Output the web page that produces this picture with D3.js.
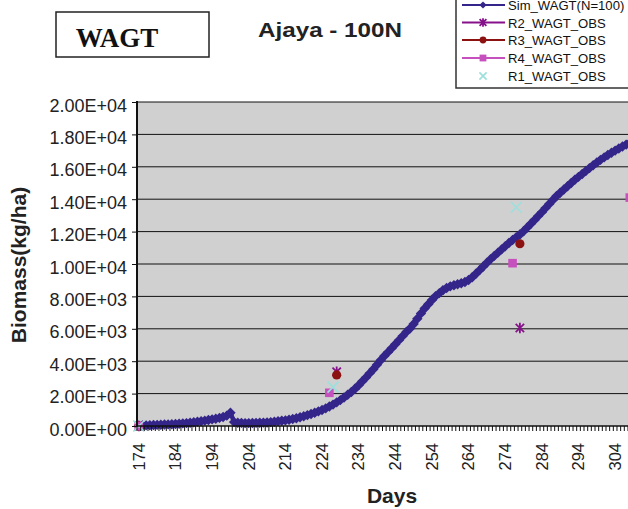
<!DOCTYPE html>
<html><head><meta charset="utf-8">
<script src="https://cdn.jsdelivr.net/npm/d3@7/dist/d3.min.js"></script>
<style>
body{margin:0;background:#fff}
svg{display:block;font-family:"Liberation Sans",Arial,Helvetica,sans-serif;overflow:hidden}
</style>
</head><body>
<svg id="chart" width="628" height="509"></svg>
<script>
// ---------------- data ----------------
const simStartDay = 174;
const simValues = [
  20, 30, 40, 50, 60, 70, 80, 90, 100, 110,          // 174-183
  120, 140, 160, 180, 200, 230, 260, 290, 330, 370,  // 184-193
  410, 450, 500, 560, 640, 820, 240, 200, 190, 180,  // 194-203
  180, 185, 190, 200, 210, 220, 240, 260, 290, 320,  // 204-213
  350, 390, 430, 480, 540, 600, 670, 740, 820, 900,  // 214-223
  990, 1090, 1200, 1320, 1460, 1600, 1760, 1930, 2100, 2300, // 224-233
  2520, 2760, 3000, 3250, 3500, 3780, 4060, 4320, 4560, 4800, // 234-243
  5050, 5300, 5550, 5800, 6020, 6300, 6620, 6950, 7250, 7520, // 244-253
  7780, 8020, 8200, 8380, 8520, 8620, 8690, 8750, 8810, 8890, // 254-263
  9010, 9180, 9400, 9620, 9850, 10080, 10300, 10500, 10700, 10900, // 264-273
  11100, 11300, 11480, 11650, 11820, 12020, 12250, 12480, 12720, 12960, // 274-283
  13200, 13450, 13700, 13950, 14200, 14400, 14600, 14800, 15000, 15200, // 284-293
  15380, 15560, 15740, 15920, 16100, 16270, 16430, 16580, 16730, 16870, // 294-303
  17000, 17130, 17250, 17370, 17480, 17580              // 304-309
];
const r2Days = [174, 228, 278];
const r2Values = [0, 3350, 6050];
const r3Days = [174, 228, 278];
const r3Values = [0, 3150, 11250];
const r4Days = [174, 226, 276, 308];
const r4Values = [0, 2050, 10050, 14100];
const r1Days = [174, 227, 277];
const r1Values = [0, 2400, 13500];
const xTickLabels = [174, 184, 194, 204, 214, 224, 234, 244, 254, 264, 274, 284, 294, 304];
const yTicks = [0, 2000, 4000, 6000, 8000, 10000, 12000, 14000, 16000, 18000, 20000];
const axisFirstDay = 174, axisLastDay = 310;

const legendLabels = ["Sim_WAGT(N=100)", "R2_WAGT_OBS", "R3_WAGT_OBS", "R4_WAGT_OBS", "R1_WAGT_OBS"];
const colors = {sim: "#34258a", r2: "#86118a", r3: "#8c1212", r4: "#c650bd", r1: "#9ae0dd"};

// ---------------- layout ----------------
const svg = d3.select("#chart");
const plotL = 137, plotT = 102, plotB = 426, catW = 3.664;
const days = d3.range(axisFirstDay, axisLastDay + 1);
const x = d3.scaleBand().domain(days).range([plotL, plotL + days.length * catW]).padding(0);
const xc = d => x(d) + x.bandwidth() / 2;
const y = d3.scaleLinear().domain([0, 20000]).range([plotB, plotT]);
const plotR = plotL + days.length * catW;

// plot background
svg.append("rect").attr("x", plotL).attr("y", plotT)
  .attr("width", plotR - plotL).attr("height", plotB - plotT).attr("fill", "#d0d0d0");

// gridlines
svg.append("g").selectAll("line").data(yTicks.filter(v => v > 0)).join("line")
  .attr("x1", plotL).attr("x2", plotR)
  .attr("y1", d => y(d)).attr("y2", d => y(d))
  .attr("stroke", "#111").attr("stroke-width", 1);

// simulated series
const simData = simValues.map((v, i) => ({d: simStartDay + i, v}));
svg.append("path").datum(simData)
  .attr("d", d3.line().x(p => xc(p.d)).y(p => y(p.v)))
  .attr("fill", "none").attr("stroke", colors.sim).attr("stroke-width", 4.5);
const diamond = r => `M0,${-r}L${r},0L0,${r}L${-r},0Z`;
svg.append("g").selectAll("path").data(simData).join("path")
  .attr("transform", p => `translate(${xc(p.d)},${y(p.v)})`)
  .attr("d", diamond(5.2)).attr("fill", colors.sim);

// marker helpers
function star(g, c, s) {
  g.append("path").attr("d", `M${-s},${-s}L${s},${s}M${-s},${s}L${s},${-s}M0,${-s*1.25}L0,${s*1.25}`)
    .attr("stroke", c).attr("stroke-width", 1.8).attr("fill", "none");
}
function cross(g, c, s) {
  g.append("path").attr("d", `M${-s},${-s}L${s},${s}M${-s},${s}L${s},${-s}`)
    .attr("stroke", c).attr("stroke-width", 1.6).attr("fill", "none");
}
function pts(daysArr, vals) { return daysArr.map((d, i) => ({d, v: vals[i]})); }

svg.append("g").selectAll("g").data(pts(r2Days, r2Values)).join("g")
  .attr("transform", p => `translate(${xc(p.d)},${y(p.v)})`)
  .each(function () { star(d3.select(this), colors.r2, 4.2); });
svg.append("g").selectAll("circle").data(pts(r3Days, r3Values)).join("circle")
  .attr("cx", p => xc(p.d)).attr("cy", p => y(p.v)).attr("r", 4.6).attr("fill", colors.r3);
svg.append("g").selectAll("rect").data(pts(r4Days, r4Values)).join("rect")
  .attr("x", p => xc(p.d) - 4.3).attr("y", p => y(p.v) - 4.3)
  .attr("width", 8.6).attr("height", 8.6).attr("fill", colors.r4);
svg.append("g").selectAll("g").data(pts(r1Days, r1Values)).join("g")
  .attr("transform", p => `translate(${xc(p.d)},${y(p.v)})`)
  .each(function () { cross(d3.select(this), colors.r1, 5.5); });

// y axis
const fmt = v => {
  if (v === 0) return "0.00E+00";
  const [m, e] = v.toExponential(2).split("e");
  const n = parseInt(e, 10);
  return m + "E" + (n < 0 ? "-" : "+") + String(Math.abs(n)).padStart(2, "0");
};
const yAxis = svg.append("g").attr("transform", `translate(${plotL},0)`)
  .call(d3.axisLeft(y).tickValues(yTicks).tickSize(5).tickPadding(5).tickFormat(fmt));
yAxis.select(".domain").remove();
yAxis.selectAll(".tick line").attr("stroke", "#111");
yAxis.selectAll("text").attr("font-size", 18).attr("fill", "#222").attr("dy", "0.5em")
  .attr("font-family", '"Liberation Sans",Arial,sans-serif');
svg.append("line").attr("x1", plotL).attr("x2", plotL).attr("y1", plotT - 1).attr("y2", plotB + 1)
  .attr("stroke", "#111").attr("stroke-width", 2);

// x axis
const xAxis = svg.append("g").attr("transform", `translate(${-x.bandwidth() / 2},${plotB})`)
  .call(d3.axisBottom(x).tickValues(days).tickSize(5).tickFormat(""));
xAxis.select(".domain").remove();
xAxis.selectAll(".tick line").attr("stroke", "#111");
svg.append("line").attr("x1", plotL).attr("x2", plotR)
  .attr("y1", plotB).attr("y2", plotB).attr("stroke", "#111").attr("stroke-width", 1.5);
svg.append("g").selectAll("text").data(xTickLabels).join("text")
  .attr("transform", d => `translate(${xc(d)},443) rotate(-90)`)
  .attr("text-anchor", "end").attr("dy", "0.35em")
  .attr("font-size", 16.5).attr("fill", "#222").text(d => d);

// titles
svg.append("text").attr("x", 392).attr("y", 503).attr("text-anchor", "middle")
  .attr("font-size", 21).attr("font-weight", "bold").attr("fill", "#222").text("Days");
svg.append("text").attr("transform", "translate(26,265) rotate(-90)").attr("text-anchor", "middle")
  .attr("font-size", 21).attr("font-weight", "bold").attr("fill", "#222").text("Biomass(kg/ha)");
svg.append("text").attr("x", 330).attr("y", 37).attr("text-anchor", "middle")
  .attr("font-size", 21).attr("font-weight", "bold").attr("fill", "#222")
  .attr("textLength", 144).attr("lengthAdjust", "spacingAndGlyphs").text("Ajaya - 100N");

// WAGT box
svg.append("rect").attr("x", 56).attr("y", 12).attr("width", 153).attr("height", 45)
  .attr("fill", "#fff").attr("stroke", "#222").attr("stroke-width", 1.5);
svg.append("text").attr("x", 117).attr("y", 47).attr("text-anchor", "middle")
  .attr("font-family", '"Liberation Serif","Times New Roman",serif')
  .attr("font-size", 27).attr("font-weight", "bold").attr("fill", "#111").text("WAGT");

// legend
const lg = svg.append("g");
lg.append("rect").attr("x", 456).attr("y", -5).attr("width", 200).attr("height", 93)
  .attr("fill", "#fff").attr("stroke", "#333").attr("stroke-width", 1.5);
const rowY = [5, 22.5, 40, 58, 76];
const keys = ["sim", "r2", "r3", "r4", "r1"];
keys.forEach((k, i) => {
  const g = lg.append("g").attr("transform", `translate(0,${rowY[i]})`);
  if (k !== "r1") g.append("line").attr("x1", 462).attr("x2", 505).attr("y1", 0).attr("y2", 0)
    .attr("stroke", colors[k]).attr("stroke-width", 1.8);
  const m = g.append("g").attr("transform", "translate(483,0)");
  if (k === "sim") m.append("path").attr("d", diamond(3.6)).attr("fill", colors.sim);
  if (k === "r2") star(m, colors.r2, 3.4);
  if (k === "r3") m.append("circle").attr("r", 3.4).attr("fill", colors.r3);
  if (k === "r4") m.append("rect").attr("x", -3.4).attr("y", -3.4).attr("width", 6.8).attr("height", 6.8).attr("fill", colors.r4);
  if (k === "r1") cross(m, colors.r1, 3.6);
  g.append("text").attr("x", 508).attr("y", 5).attr("font-size", 13.1).attr("fill", "#111").text(legendLabels[i]);
});
</script>
</body></html>
